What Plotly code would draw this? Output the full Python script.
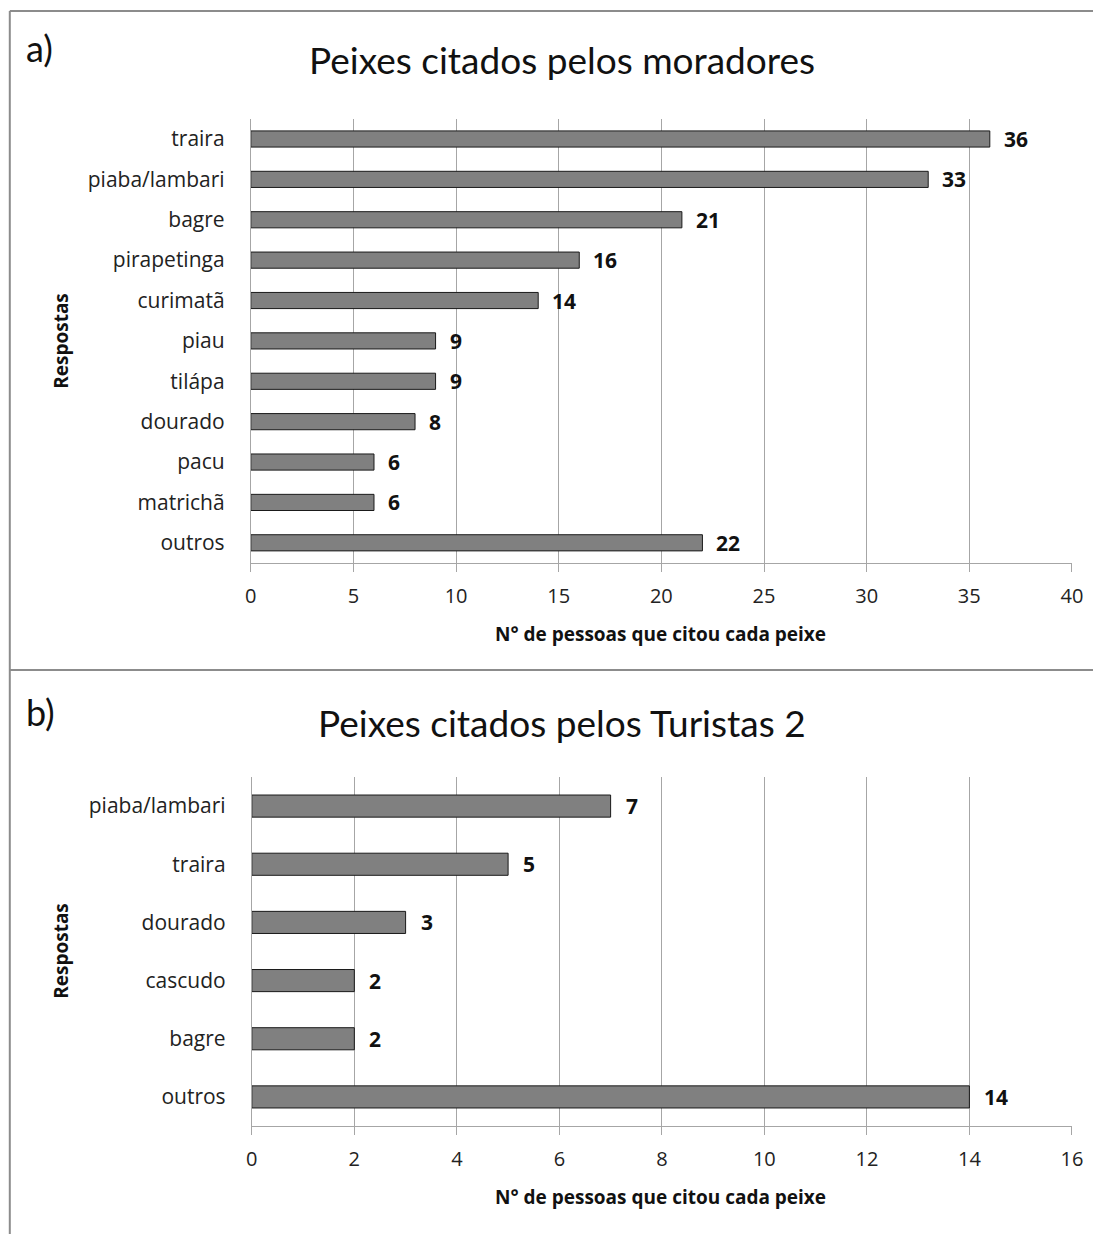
import plotly.graph_objects as go

W, H = 1104, 1234

# Panel a: fish cited by residents
cats_a = ["traira", "piaba/lambari", "bagre", "pirapetinga", "curimatã", "piau",
          "tilápa", "dourado", "pacu", "matrichã", "outros"]
vals_a = [36, 33, 21, 16, 14, 9, 9, 8, 6, 6, 22]

# Panel b: fish cited by tourists
cats_b = ["piaba/lambari", "traira", "dourado", "cascudo", "bagre", "outros"]
vals_b = [7, 5, 3, 2, 2, 14]

FONT = "'Open Sans', Lato, sans-serif"
TFONT = "Lato, 'Open Sans', sans-serif"
GRID = "#a6a6a6"
BAR = "#808080"

# horizontal placement helper (page pixels -> paper fraction)
X_OFF, X_SCALE = 6.2, 0.9845

def px(x):
    return (x - X_OFF) / X_SCALE / W

def py(y):
    return 1 - y / H

fig = go.Figure()

fig.add_trace(go.Bar(x=vals_a, y=cats_a, orientation="h", xaxis="x", yaxis="y",
                     marker=dict(color=BAR, line=dict(color="#1a1a1a", width=1)),
                     showlegend=False, hoverinfo="x+y"))
fig.add_trace(go.Bar(x=vals_b, y=cats_b, orientation="h", xaxis="x2", yaxis="y2",
                     marker=dict(color=BAR, line=dict(color="#1a1a1a", width=1)),
                     showlegend=False, hoverinfo="x+y", width=0.38))

xcommon = dict(showgrid=True, gridcolor=GRID, gridwidth=1, showline=True, linecolor=GRID,
               linewidth=1, ticks="outside", ticklen=8, tickcolor=GRID, zeroline=False,
               tickfont=dict(family=FONT, size=20, color="#222"), ticklabelstandoff=7,
               fixedrange=True)
ycommon = dict(showgrid=False, showline=True, linecolor=GRID, linewidth=1, ticks="",
               autorange="reversed", tickfont=dict(family=FONT, size=21, color="#222"),
               ticklabelstandoff=21, fixedrange=True)

fig.update_layout(
    width=W, height=H, margin=dict(l=0, r=0, t=0, b=0),
    paper_bgcolor="white", plot_bgcolor="white", bargap=0.6,
    xaxis=dict(domain=[px(251), px(1072)], range=[0, 40], dtick=5, anchor="y", **xcommon),
    yaxis=dict(domain=[py(563), py(118.8)], anchor="x", categoryorder="array",
               categoryarray=cats_a, **ycommon),
    xaxis2=dict(domain=[px(252), px(1072)], range=[0, 16], dtick=2, anchor="y2", **xcommon),
    yaxis2=dict(domain=[py(1126), py(777)], anchor="x2", categoryorder="array",
                categoryarray=cats_b, **ycommon),
)

ann = []
# value labels beside each bar
for c, v in zip(cats_a, vals_a):
    ann.append(dict(x=v, y=c, xref="x", yref="y", text=f"<b>{v}</b>", showarrow=False,
                    xanchor="left", xshift=12, font=dict(family=FONT, size=21, color="#111")))
for c, v in zip(cats_b, vals_b):
    ann.append(dict(x=v, y=c, xref="x2", yref="y2", text=f"<b>{v}</b>", showarrow=False,
                    xanchor="left", xshift=13, font=dict(family=FONT, size=21, color="#111")))

# panel letters, titles, axis titles
for letter, ty in (("a)", 48), ("b)", 712)):
    ann.append(dict(x=px(24), y=py(ty), xref="paper", yref="paper", text=letter,
                    showarrow=False, xanchor="left", yanchor="middle",
                    font=dict(family=TFONT, size=36, color="#111")))
for title, ty in (("Peixes citados pelos moradores", 60), ("Peixes citados pelos Turistas 2", 722)):
    ann.append(dict(x=px(562), y=py(ty), xref="paper", yref="paper", text=title,
                    showarrow=False, xanchor="center", yanchor="middle",
                    font=dict(family=TFONT, size=37, color="#111")))
for ty in (634, 1197):
    ann.append(dict(x=px(661), y=py(ty), xref="paper", yref="paper",
                    text="<b>N° de pessoas que citou cada peixe</b>", showarrow=False,
                    xanchor="center", yanchor="middle",
                    font=dict(family=FONT, size=19, color="#111")))
for ty in (341, 951):
    ann.append(dict(x=px(61), y=py(ty), xref="paper", yref="paper", text="<b>Respostas</b>",
                    showarrow=False, textangle=-90, xanchor="center", yanchor="middle",
                    font=dict(family=FONT, size=19, color="#111")))
fig.update_layout(annotations=ann)

# frame lines around the two panels
border = dict(color="#8c8c8c", width=2)
fig.update_layout(shapes=[
    dict(type="line", xref="paper", yref="paper", x0=px(10), x1=1, y0=py(11), y1=py(11), line=border),
    dict(type="line", xref="paper", yref="paper", x0=px(10), x1=px(10), y0=py(11), y1=0, line=border),
    dict(type="line", xref="paper", yref="paper", x0=px(10), x1=1, y0=py(670), y1=py(670), line=border),
])

fig.write_html("out.html")
